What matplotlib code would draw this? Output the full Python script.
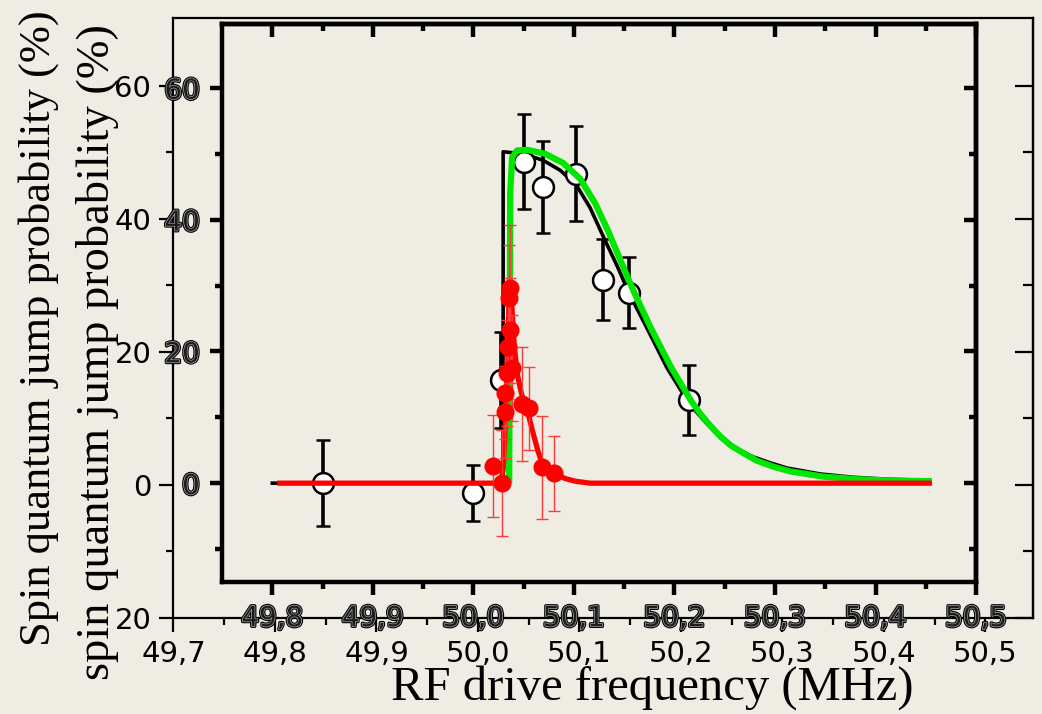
#!/usr/bin/env python3
"""
Spin quantum jump probability vs RF drive frequency.
Two overlaid frames (outer thin, inner thick) as in the original slide.
"""

import matplotlib
matplotlib.use('Agg')
import matplotlib.pyplot as plt
import matplotlib.patheffects as pe

plt.rcParams['font.family'] = 'DejaVu Sans'

BG = '#efece3'

# Measured data (open circles, black error bars)
BLACK_X = [49.85, 50.0, 50.027, 50.05, 50.069, 50.102, 50.129, 50.155, 50.2145]
BLACK_Y = [0.0, -1.5, 15.6, 48.8, 45.0, 47.0, 30.9, 28.9, 12.6]
BLACK_ERR = [6.5, 4.2, 7.3, 7.2, 7.0, 7.2, 6.1, 5.4, 5.3]

# Measured data (filled red circles, thin red error bars)
RED_X = [50.0197, 50.0286, 50.0316, 50.0316, 50.0336, 50.0346, 50.0386,
         50.0366, 50.0356, 50.0366, 50.0485, 50.0555, 50.0684, 50.0803]
RED_Y = [2.6, 0.0, 10.8, 13.7, 16.7, 20.7, 17.5, 23.2, 28.1, 29.6, 12.0, 11.4, 2.4, 1.5]
RED_ERR = [7.8, 8.0, 7.0, 7.0, 8.0, 8.0, 8.0, 8.0, 8.0, 9.6, 8.7, 6.3, 7.8, 5.7]

# Fit curves
BLACK_FIT_X = [49.800, 50.0296, 50.0296, 50.0495, 50.0694, 50.0863, 50.1022, 50.1161,
               50.1290, 50.1429, 50.1559, 50.1728, 50.1926, 50.2125, 50.2225, 50.2324,
               50.2423, 50.2523, 50.2652, 50.2781, 50.2950, 50.3119, 50.3447, 50.3775,
               50.4113, 50.4491]
BLACK_FIT_Y = [0.0, 0.0, 50.3, 50.0, 49.0, 47.5, 45.3, 41.8, 37.5, 33.0, 28.5, 23.5,
               17.5, 12.6, 10.7, 9.0, 7.5, 6.2, 5.0, 4.0, 3.1, 2.3, 1.4, 0.9, 0.6, 0.45]

GREEN_FIT_X = [50.0356, 50.0366, 50.0386, 50.0435, 50.0535, 50.0714, 50.0893, 50.1062,
               50.1211, 50.1340, 50.1469, 50.1598, 50.1767, 50.1966, 50.2165, 50.2264,
               50.2364, 50.2463, 50.2563, 50.2692, 50.2821, 50.2985, 50.3149, 50.3477,
               50.3815, 50.4143, 50.4561]
GREEN_FIT_Y = [0.0, 44.0, 49.5, 50.5, 50.6, 50.0, 48.6, 46.2, 42.5, 38.3, 33.6, 29.0,
               23.5, 17.6, 12.5, 10.4, 8.6, 7.0, 5.7, 4.5, 3.4, 2.5, 1.8, 1.0, 0.6, 0.4, 0.3]

RED_FIT_X = [49.805, 50.0266, 50.0296, 50.0316, 50.0336, 50.0356, 50.0366, 50.0386,
             50.0406, 50.0435, 50.0465, 50.0495, 50.0545, 50.0594, 50.0644, 50.0684,
             50.0744, 50.0813, 50.0913, 50.1012, 50.1161, 50.4561]
RED_FIT_Y = [0.0, 0.0, 2.0, 8.0, 18.0, 28.0, 30.0, 26.0, 21.0, 16.7, 14.5, 12.6,
             10.5, 7.6, 4.8, 3.0, 2.0, 1.4, 0.7, 0.3, 0.0, 0.0]

# Axis ticks
OUTER_XTICKS = [49.7, 49.8, 49.9, 50.0, 50.1, 50.2, 50.3, 50.4, 50.5]
OUTER_XLABELS = ['49,7', '49,8', '49,9', '50,0', '50,1', '50,2', '50,3', '50,4', '50,5']
OUTER_YTICKS = [-20, 0, 20, 40, 60]
OUTER_YLABELS = ['20', '0', '20', '40', '60']

INNER_XTICKS = [49.8, 49.9, 50.0, 50.1, 50.2, 50.3, 50.4, 50.5]
INNER_XLABELS = ['49,8', '49,9', '50,0', '50,1', '50,2', '50,3', '50,4', '50,5']
INNER_YTICKS = [0, 20, 40, 60]
INNER_YLABELS = ['0', '20', '40', '60']


def minors(ticks, step):
    return [t + step / 2 for t in ticks[:-1]]


def main():
    fig = plt.figure(figsize=(10.42, 7.14), dpi=100)
    fig.patch.set_facecolor(BG)

    # ---- outer (thin) frame ----
    ax_out = fig.add_axes([0.1665, 0.1345, 0.8249, 0.8403])
    ax_out.set_facecolor(BG)
    ax_out.set_xlim(49.7, 50.547)
    ax_out.set_ylim(-20, 70.2)
    for s in ax_out.spines.values():
        s.set_linewidth(1.6)
    ax_out.set_xticks(OUTER_XTICKS)
    ax_out.set_xticklabels(OUTER_XLABELS)
    ax_out.set_xticks(minors(OUTER_XTICKS, 0.1), minor=True)
    ax_out.set_yticks(OUTER_YTICKS)
    ax_out.set_yticklabels(OUTER_YLABELS)
    ax_out.set_yticks(minors(OUTER_YTICKS, 20), minor=True)
    ax_out.tick_params(which='major', direction='out', length=10, width=1.6,
                       labelsize=21, pad=6)
    ax_out.tick_params(which='minor', direction='out', length=5, width=1.6)

    sec = ax_out.secondary_yaxis('right')
    sec.set_yticks(OUTER_YTICKS)
    sec.set_yticks(minors(OUTER_YTICKS, 20), minor=True)
    sec.tick_params(which='major', direction='in', length=13, width=1.6, labelright=False)
    sec.tick_params(which='minor', direction='in', length=7, width=1.6)
    for s in sec.spines.values():
        s.set_linewidth(1.6)

    # ---- inner (thick) frame with the data ----
    ax = fig.add_axes([0.2131, 0.1849, 0.7236, 0.7815])
    ax.set_facecolor('none')
    ax.set_xlim(49.75, 50.5)
    ax.set_ylim(-15, 69.7)
    for s in ax.spines.values():
        s.set_linewidth(3.2)

    ax.plot(BLACK_FIT_X, BLACK_FIT_Y, color='black', lw=2.6, zorder=2)
    ax.errorbar(BLACK_X, BLACK_Y, yerr=BLACK_ERR, fmt='o', color='black',
                mfc='white', mec='black', ms=15, mew=1.8, elinewidth=2.6,
                capsize=5, capthick=2.6, zorder=3)
    ax.plot(GREEN_FIT_X, GREEN_FIT_Y, color='#00e600', lw=4.5, zorder=4,
            solid_capstyle='butt')
    ax.plot(RED_FIT_X, RED_FIT_Y, color='#ff0000', lw=3.8, zorder=5,
            solid_capstyle='butt')
    ax.errorbar(RED_X, RED_Y, yerr=RED_ERR, fmt='o', color='#ff0000',
                ecolor='#ff3a3a', ms=12, elinewidth=1.0, capsize=4.5,
                capthick=1.0, zorder=6)

    ax.set_xticks(INNER_XTICKS)
    ax.set_xticklabels(INNER_XLABELS)
    ax.set_xticks(minors(INNER_XTICKS, 0.1), minor=True)
    ax.set_yticks(INNER_YTICKS)
    ax.set_yticklabels(INNER_YLABELS)
    ax.set_yticks([-10, 10, 30, 50], minor=True)
    ax.tick_params(which='major', direction='out', length=9, width=3.2,
                   labelsize=20, pad=7)
    ax.tick_params(which='minor', direction='out', length=5, width=3.2)

    outline = [pe.Stroke(linewidth=2.6, foreground='#000000'),
               pe.Stroke(linewidth=1.0, foreground='#a8a8a8'),
               pe.Normal()]
    for lab in ax.get_xticklabels() + ax.get_yticklabels():
        lab.set_color('#1c1c1c')
        lab.set_path_effects(outline)

    top = ax.secondary_xaxis('top')
    top.set_xticks(INNER_XTICKS)
    top.set_xticks(minors(INNER_XTICKS, 0.1), minor=True)
    top.tick_params(which='major', direction='in', length=9, width=3.2, labeltop=False)
    top.tick_params(which='minor', direction='in', length=5, width=3.2)
    right = ax.secondary_yaxis('right')
    right.set_yticks(INNER_YTICKS)
    right.set_yticks([-10, 10, 30, 50], minor=True)
    right.tick_params(which='major', direction='in', length=9, width=3.2, labelright=False)
    right.tick_params(which='minor', direction='in', length=5, width=3.2)
    for s in list(top.spines.values()) + list(right.spines.values()):
        s.set_linewidth(3.2)

    # ---- axis titles (serif, as on the slide) ----
    serif = 'Liberation Serif'
    fig.text(39 / 1042, 1 - 328 / 714, 'Spin quantum jump probability (%)',
             rotation=90, ha='center', va='center', fontsize=32, family=serif)
    fig.text(98 / 1042, 1 - 352 / 714, 'spin quantum jump probability (%)',
             rotation=90, ha='center', va='center', fontsize=33.5, family=serif)
    fig.text(652 / 1042, 1 - 688 / 714, 'RF drive frequency (MHz)',
             ha='center', va='center', fontsize=35, family=serif)

    fig.savefig('out.png', dpi=100, facecolor=fig.get_facecolor())
    plt.close(fig)
    return 0


if __name__ == '__main__':
    exit(main())
